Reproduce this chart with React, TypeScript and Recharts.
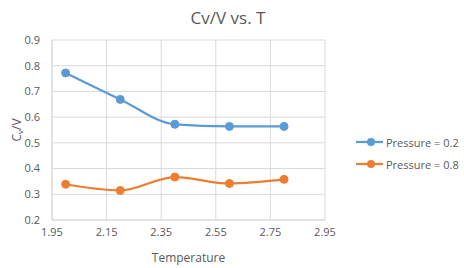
import { CartesianGrid, Label, Line, LineChart, XAxis, YAxis } from 'recharts'

const temperatures = [2.0, 2.2, 2.4, 2.6, 2.8]
const pressureLow = [0.772, 0.669, 0.572, 0.564, 0.564]
const pressureHigh = [0.339, 0.315, 0.367, 0.342, 0.358]
const xTicks = [1.95, 2.15, 2.35, 2.55, 2.75, 2.95]
const yTicks = [0.2, 0.3, 0.4, 0.5, 0.6, 0.7, 0.8, 0.9]

const series = [
  { key: 'p02', name: 'Pressure = 0.2', color: '#5B9BD5', values: pressureLow },
  { key: 'p08', name: 'Pressure = 0.8', color: '#ED7D31', values: pressureHigh },
]

const data = temperatures.map((t, i) => {
  const row: Record<string, number> = { t }
  series.forEach((s) => {
    row[s.key] = s.values[i]
  })
  return row
})

const FONT = "'Open Sans', 'Noto Sans', sans-serif"
const TEXT = '#595959'
const GRID = '#d9d9d9'

const YLabel = (props: any) => {
  const vb = props.viewBox || {}
  const cx = 16
  const cy = vb.y + vb.height / 2
  return (
    <text
      x={cx}
      y={cy}
      transform={`rotate(-90, ${cx}, ${cy})`}
      textAnchor='middle'
      dominantBaseline='central'
      fill={TEXT}
      fontSize={12}
      fontFamily={FONT}
    >
      C
      <tspan fontSize={8} dy={3}>
        v
      </tspan>
      <tspan dy={-3}>/V</tspan>
    </text>
  )
}

export default function App() {
  return (
    <div
      style={{
        position: 'absolute',
        left: 0,
        top: 0,
        width: 464,
        height: 268,
        background: '#fff',
        fontFamily: FONT,
      }}
    >
      <div
        style={{
          position: 'absolute',
          top: 6,
          left: 0,
          width: 464,
          textAlign: 'center',
          paddingRight: 8,
          boxSizing: 'border-box',
          fontSize: 17,
          color: TEXT,
        }}
      >
        Cv/V vs. T
      </div>
      <LineChart
        width={464}
        height={268}
        data={data}
        margin={{ top: 40, right: 139, left: 22, bottom: 18 }}
      >
        <CartesianGrid stroke={GRID} strokeWidth={1} />
        <XAxis
          dataKey='t'
          type='number'
          domain={[1.95, 2.95]}
          ticks={xTicks}
          tickFormatter={(v) => v.toFixed(2)}
          tickLine={false}
          axisLine={{ stroke: GRID }}
          tick={{ fill: TEXT, fontSize: 11, fontFamily: FONT }}
          tickMargin={2}
          height={30}
        >
          <Label
            value='Temperature'
            position='insideBottom'
            offset={-12}
            fill={TEXT}
            fontSize={12}
            fontFamily={FONT}
          />
        </XAxis>
        <YAxis
          type='number'
          domain={[0.2, 0.9]}
          ticks={yTicks}
          tickFormatter={(v) => v.toFixed(1)}
          tickLine={false}
          axisLine={{ stroke: GRID }}
          tick={{ fill: TEXT, fontSize: 11, fontFamily: FONT }}
          tickMargin={6}
          width={30}
        >
          <Label content={<YLabel />} />
        </YAxis>
        {series.map((s) => (
          <Line
            key={s.key}
            type='monotone'
            dataKey={s.key}
            name={s.name}
            stroke={s.color}
            strokeWidth={2.25}
            dot={{ r: 4, fill: s.color, stroke: s.color, strokeWidth: 1 }}
            isAnimationActive={false}
          />
        ))}
      </LineChart>
      {series.map((s, i) => (
        <div
          key={s.key}
          style={{
            position: 'absolute',
            left: 356,
            top: 134 + i * 22,
            height: 16,
            display: 'flex',
            alignItems: 'center',
            fontSize: 11,
            color: TEXT,
            whiteSpace: 'nowrap',
          }}
        >
          <svg width={28} height={16} style={{ marginRight: 2 }}>
            <line x1={0} y1={8} x2={27} y2={8} stroke={s.color} strokeWidth={2.25} />
            <circle cx={15} cy={8} r={4} fill={s.color} />
          </svg>
          {s.name}
        </div>
      ))}
    </div>
  )
}
